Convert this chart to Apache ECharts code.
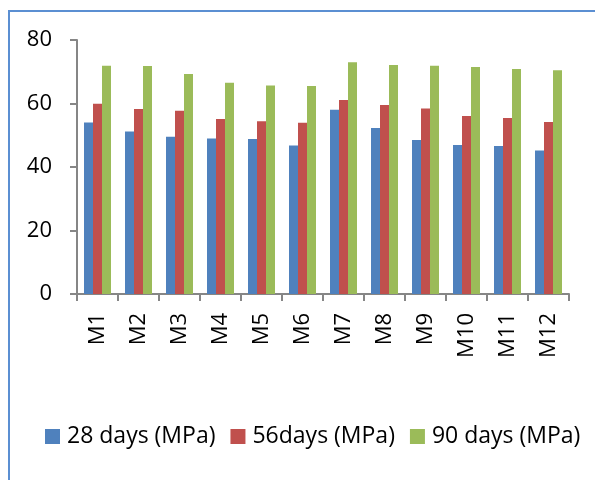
<!DOCTYPE html>
<html>
<head>
<meta charset="utf-8">
<script src="https://cdn.jsdelivr.net/npm/echarts@6/dist/echarts.min.js"></script>
<style>
  html, body { margin: 0; padding: 0; background: #fff; }
  #frame { position: absolute; left: 8px; top: 10px; width: 700px; height: 600px; border: 2px solid #5b8fd2; box-sizing: border-box; }
  #chart { position: absolute; left: 0; top: 0; width: 595px; height: 480px; }
</style>
</head>
<body>
<div id="frame"></div>
<div id="chart"></div>
<script>
// mixes M1..M12
const categories = ['M1', 'M2', 'M3', 'M4', 'M5', 'M6', 'M7', 'M8', 'M9', 'M10', 'M11', 'M12'];
const days28 = [54.0, 51.2, 49.5, 49.0, 48.8, 46.8, 58.0, 52.3, 48.5, 46.9, 46.6, 45.2];
const days56 = [59.9, 58.3, 57.7, 55.1, 54.4, 53.9, 61.1, 59.5, 58.4, 56.1, 55.4, 54.2];
const days90 = [71.9, 71.8, 69.3, 66.5, 65.7, 65.5, 73.0, 72.1, 71.9, 71.5, 70.9, 70.5];
const yTicks = [0, 20, 40, 60, 80];

const seriesNames = ['28 days (MPa)', '56days (MPa)', '90 days (MPa)'];
const colors = ['#4f81bd', '#c0504d', '#9bbb59'];
const font = '"Open Sans", "Liberation Sans", sans-serif';

const chart = echarts.init(document.getElementById('chart'), null, { renderer: 'canvas' });

const barSeries = (name, data, color) => ({
  name,
  type: 'bar',
  data,
  barWidth: 9,
  barGap: '0%',
  itemStyle: { color },
  emphasis: { disabled: true }
});

chart.setOption({
  animation: false,
  color: colors,
  grid: { left: 77, right: 26, top: 40, bottom: 186 },
  legend: {
    top: 420,
    left: 40,
    itemWidth: 15,
    itemHeight: 15,
    itemGap: 15,
    icon: 'rect',
    textStyle: { fontFamily: font, fontSize: 23, color: '#000', padding: [0, 0, 0, 2] },
    data: seriesNames
  },
  xAxis: {
    type: 'category',
    data: categories,
    axisLine: { lineStyle: { color: '#868686', width: 2 } },
    axisTick: { show: true, length: 7, lineStyle: { color: '#868686', width: 2 } },
    axisLabel: { rotate: 90, margin: 19, fontFamily: font, fontSize: 22, color: '#000' }
  },
  yAxis: {
    type: 'value',
    min: yTicks[0],
    max: yTicks[yTicks.length - 1],
    interval: 20,
    splitLine: { show: false },
    axisLine: { show: true, lineStyle: { color: '#868686', width: 2 } },
    axisTick: { show: true, length: 7, lineStyle: { color: '#868686', width: 2 } },
    axisLabel: { margin: 25, fontFamily: font, fontSize: 22, color: '#000' }
  },
  series: [
    barSeries(seriesNames[0], days28, colors[0]),
    barSeries(seriesNames[1], days56, colors[1]),
    barSeries(seriesNames[2], days90, colors[2])
  ]
});
</script>
</body>
</html>
